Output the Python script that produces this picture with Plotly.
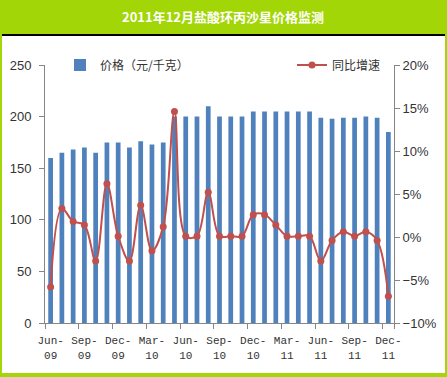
import plotly.graph_objects as go

months = ["2009-06","2009-07","2009-08","2009-09","2009-10","2009-11","2009-12",
          "2010-01","2010-02","2010-03","2010-04","2010-05","2010-06","2010-07",
          "2010-08","2010-09","2010-10","2010-11","2010-12","2011-01","2011-02",
          "2011-03","2011-04","2011-05","2011-06","2011-07","2011-08","2011-09",
          "2011-10","2011-11","2011-12"]
price = [160, 165, 168, 170, 165, 175, 175, 170, 176, 173, 175, 200, 200, 200,
         210, 200, 200, 200, 205, 205, 205, 205, 205, 205, 199, 198, 199, 199,
         200, 199, 185]
yoy = [-5.8, 3.3, 1.8, 1.4, -2.8, 6.2, 0.1, -2.8, 3.7, -1.6, 1.2, 14.6, 0.1, 0.1,
       5.2, 0.1, 0.1, 0.1, 2.6, 2.6, 1.4, 0.1, 0.1, 0.1, -2.8, -0.4, 0.6, 0.1,
       0.6, -0.4, -6.9]
tick_months = ["2009-06","2009-09","2009-12","2010-03","2010-06","2010-09",
               "2010-12","2011-03","2011-06","2011-09","2011-12"]
tick_labels = ["Jun-<br>09","Sep-<br>09","Dec-<br>09","Mar-<br>10","Jun-<br>10","Sep-<br>10",
               "Dec-<br>10","Mar-<br>11","Jun-<br>11","Sep-<br>11","Dec-<br>11"]

title_text = "2011年12月盐酸环丙沙星价格监测"
bar_name = "价格（元/千克）"
line_name = "同比增速"

GREEN = "#A2D606"
BLUE = "#4F81BD"
RED = "#C0504D"
AX = "#868686"
TXT = "#333333"

W, H = 447, 377
ML, MR, MT, MB = 45, 53, 65, 54
PW, PH = W - ML - MR, H - MT - MB

def px2x(px):
    return (px - ML) / PW

def py2y(py):
    return (H - MB - py) / PH

fig = go.Figure()
fig.add_trace(go.Bar(x=months, y=price, name=bar_name, marker=dict(color=BLUE, line=dict(width=0)),
                     legend="legend"))
fig.add_trace(go.Scatter(x=months, y=yoy, name=line_name, yaxis="y2", mode="lines+markers",
                         line=dict(color=RED, width=2, shape="spline", smoothing=1),
                         marker=dict(color=RED, size=7, symbol="circle"),
                         legend="legend2"))

fig.update_layout(
    width=W, height=H, autosize=False,
    margin=dict(l=ML, r=MR, t=MT, b=MB, autoexpand=False),
    paper_bgcolor=GREEN, plot_bgcolor="white",
    bargap=0.58,
    font=dict(family="Liberation Sans, Noto Sans CJK SC", size=12, color=TXT),
    xaxis=dict(type="category", categoryorder="array", categoryarray=months,
               range=[-0.5, len(months) - 0.5],
               tickmode="array", tickvals=tick_months, ticktext=tick_labels,
               tickson="boundaries", ticks="outside", ticklen=5, tickcolor=AX,
               showline=True, linecolor=AX, linewidth=1, showgrid=False,
               tickfont=dict(family="Liberation Mono, Noto Sans CJK SC", size=11, color=TXT),
               tickangle=0, ticklabelstandoff=7),
    yaxis=dict(range=[0, 250], dtick=50, showgrid=False, zeroline=False,
               showline=True, linecolor=AX, ticks="outside", ticklen=5, tickcolor=AX,
               tickfont=dict(size=13, color=TXT), ticklabelstandoff=5),
    yaxis2=dict(range=[-10, 20], dtick=5, overlaying="y", side="right", showgrid=False,
                zeroline=False, showline=True, linecolor=AX, ticks="outside", ticklen=5,
                tickcolor=AX, ticksuffix="%", tickfont=dict(size=13, color=TXT)),
    legend=dict(x=px2x(60), y=py2y(65), xanchor="left", yanchor="middle",
                bgcolor="rgba(0,0,0,0)", font=dict(family="Noto Sans CJK SC", size=12, color=TXT),
                itemclick=False),
    legend2=dict(x=px2x(292), y=py2y(65), xanchor="left", yanchor="middle",
                 bgcolor="rgba(0,0,0,0)", font=dict(family="Noto Sans CJK SC", size=12, color=TXT),
                 itemclick=False),
    showlegend=True,
    shapes=[
        dict(type="rect", xref="paper", yref="paper", layer="below",
             x0=px2x(2), x1=px2x(445), y0=py2y(373), y1=py2y(36),
             fillcolor="white", line=dict(width=0)),
        dict(type="rect", xref="paper", yref="paper", layer="below",
             x0=px2x(2), x1=px2x(445), y0=py2y(36), y1=py2y(34),
             fillcolor="black", line=dict(width=0)),
    ],
    annotations=[
        dict(text="<b>" + title_text + "</b>", xref="paper", yref="paper",
             x=px2x(223), y=py2y(17), xanchor="center", yanchor="middle", showarrow=False,
             font=dict(family="Noto Sans CJK SC", size=13, color="white")),
    ],
)

page_fix = "document.body.style.margin='0';document.body.style.overflow='hidden';"
fig.write_html("out.html", config={"responsive": False, "displayModeBar": False},
               post_script=page_fix)
